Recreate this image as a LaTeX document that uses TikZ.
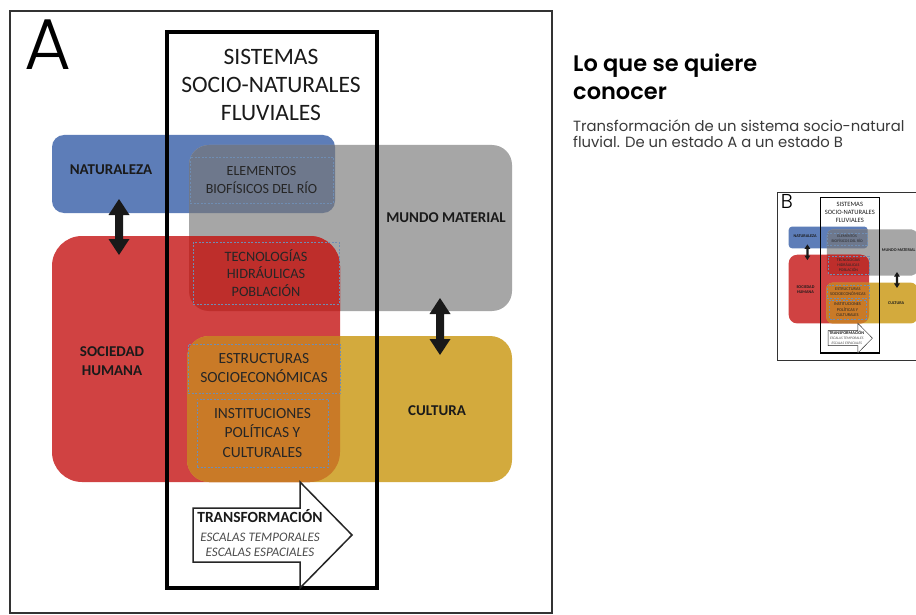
\documentclass[tikz,border=0pt]{standalone}
\usepackage{fontspec}
\setmainfont{Carlito}
\newfontfamily\gothic{Poppins}
\newfontfamily\gothiclight{Poppins Light}
\newfontfamily\gothicsemi{Poppins SemiBold}
\definecolor{cblue}{HTML}{5D7DB8}
\definecolor{cgray}{HTML}{A6A6A6}
\definecolor{cred}{HTML}{D04242}
\definecolor{cyel}{HTML}{D3AA3D}
\definecolor{cbluegray}{HTML}{6E788C}
\definecolor{credgray}{HTML}{BE2E2B}
\definecolor{corange}{HTML}{C97A27}
\definecolor{cdash}{HTML}{6F8DB3}
\definecolor{ctext}{HTML}{1A1A1A}
\definecolor{cbody}{HTML}{3A3A3A}
\newcommand\lwf{1}
\tikzset{
  frameline/.style={draw=black!80, line width=\lwf*2pt},
  sysbox/.style={draw=black, line width=\lwf*4pt},
  dashbox/.style={draw=cdash, line width=\lwf*0.8pt, dash pattern=on 2pt off 1.5pt,
    inner sep=0pt, align=center, text=black!85},
  biglabel/.style={font=\bfseries\fontsize{15}{19}\selectfont, text=ctext, align=center, inner sep=0pt},
  titletext/.style={font=\fontsize{23.5}{28}\selectfont, text=ctext, align=center, inner sep=0pt},
  letterA/.style={font=\gothiclight\fontsize{72}{72}\selectfont, inner sep=0pt},
  transarrow/.style={draw=black!85, fill=white, line width=\lwf*1.5pt, line join=miter},
  fatarrow/.style={fill=black!90},
}
\newcommand\fatdbl[2]{%
  \fill[fatarrow] (#1) -- ++(10.5,16) -- ++(-6.5,0) -- ++(0,#2-32) -- ++(6.5,0)
    -- ++(-10.5,16) -- ++(-10.5,-16) -- ++(6.5,0) -- ++(0,32-#2) -- ++(-6.5,0) -- cycle;}
\newcommand\drawdiagram[1]{%
  \draw[frameline] (10,11) rectangle (552,613);
  \node[letterA, anchor=base west] (let) at (24,70) {#1};
  \coordinate (nat-sw) at (52,213); \coordinate (nat-ne) at (335,135);
  \coordinate (mun-sw) at (189,311); \coordinate (mun-ne) at (512,145);
  \coordinate (soc-sw) at (52,482); \coordinate (soc-ne) at (340,236);
  \coordinate (cul-sw) at (187,482); \coordinate (cul-ne) at (512,336);
  \fill[cblue, rounded corners=\lwf*12pt] (nat-sw) rectangle (nat-ne);
  \fill[cgray, rounded corners=\lwf*20pt] (mun-sw) rectangle (mun-ne);
  \fill[cred, rounded corners=\lwf*30pt] (soc-sw) rectangle (soc-ne);
  \fill[cyel, rounded corners=\lwf*22pt] (cul-sw) rectangle (cul-ne);
  \begin{scope}
    \clip[rounded corners=\lwf*12pt] (nat-sw) rectangle (nat-ne);
    \fill[cbluegray, rounded corners=\lwf*20pt] (mun-sw) rectangle (mun-ne);
  \end{scope}
  \begin{scope}
    \clip[rounded corners=\lwf*30pt] (soc-sw) rectangle (soc-ne);
    \fill[credgray, rounded corners=\lwf*20pt] (mun-sw) rectangle (mun-ne);
  \end{scope}
  \begin{scope}
    \clip[rounded corners=\lwf*30pt] (soc-sw) rectangle (soc-ne);
    \fill[corange, rounded corners=\lwf*22pt] (cul-sw) rectangle (cul-ne);
  \end{scope}
  % labels
  \node[biglabel] (natl) at (111,170) {NATURALEZA};
  \node[biglabel] (munl) at (446,218) {MUNDO MATERIAL};
  \node[biglabel] (socl) at (112,361) {SOCIEDAD\\HUMANA};
  \node[biglabel] (cull) at (437,411) {CULTURA};
  % inner dashed boxes
  \node[dashbox, minimum width=143, minimum height=46, font=\fontsize{14}{17.5}\selectfont]
    (elem) at (261.5,180) {ELEMENTOS\\BIOFÍSICOS DEL RÍO};
  \node[dashbox, minimum width=146, minimum height=62, font=\fontsize{14.3}{17.5}\selectfont]
    (tecn) at (266,273) {TECNOLOGÍAS\\HIDRÁULICAS\\POBLACIÓN};
  \node[dashbox, minimum width=152, minimum height=49, font=\fontsize{15.5}{19}\selectfont]
    (estr) at (264,368.5) {ESTRUCTURAS\\SOCIOECONÓMICAS};
  \node[dashbox, minimum width=131, minimum height=68, font=\fontsize{15.5}{19.5}\selectfont]
    (inst) at (262.5,433) {INSTITUCIONES\\POLÍTICAS Y\\CULTURALES};
  % double arrows
  \coordinate (ar1) at (119,199);
  \coordinate (ar2) at (440,298);
  \fatdbl{ar1}{56}
  \fatdbl{ar2}{57}
  % central system box
  \draw[sysbox] (167,32) rectangle (377,588);
  \node[titletext] (title) at (271,85) {SISTEMAS\\SOCIO-NATURALES\\FLUVIALES};
  % transformation arrow
  \draw[transarrow] (193,508) -- (300,508) -- (300,482) -- (352,535) -- (300,588)
    -- (300,562) -- (193,562) -- cycle;
  \node[anchor=base, inner sep=0pt, font=\bfseries\fontsize{15.5}{18}\selectfont, text=ctext]
    (tr1) at (260,522) {TRANSFORMACIÓN};
  \node[anchor=base, inner sep=0pt, font=\itshape\fontsize{13}{15}\selectfont, text=black!70]
    (tr2) at (260,541) {ESCALAS TEMPORALES};
  \node[anchor=base, inner sep=0pt, font=\itshape\fontsize{13}{15}\selectfont, text=black!70]
    (tr3) at (260,556) {ESCALAS ESPACIALES};
}
\begin{document}
\begin{tikzpicture}[x=1pt, y=-1pt]
  \path[use as bounding box, clip] (0,0) rectangle (916,615);
  \fill[white] (0,0) rectangle (916,615);
  \drawdiagram{A}
  \node[anchor=base west, inner sep=0pt, font=\gothicsemi\fontsize{22.5}{28}\selectfont, text=black]
    (hd1) at (573,72) {Lo que se quiere};
  \node[anchor=base west, inner sep=0pt, font=\gothicsemi\fontsize{22.5}{28}\selectfont, text=black]
    (hd2) at (573,100) {conocer};
  \node[anchor=base west, inner sep=0pt, font=\gothic\fontsize{14.8}{16.5}\selectfont, text=cbody]
    (bd1) at (573,132) {Transformación de un sistema socio-natural};
  \node[anchor=base west, inner sep=0pt, font=\gothic\fontsize{14.8}{16.5}\selectfont, text=cbody]
    (bd2) at (573,148) {fluvial. De un estado A a un estado B};
  \begin{scope}[shift={(774.2,188.9)}, scale=0.279, transform shape, name prefix=b-]
    \renewcommand\lwf{0.279}
    \drawdiagram{B}
  \end{scope}
\end{tikzpicture}
\end{document}
